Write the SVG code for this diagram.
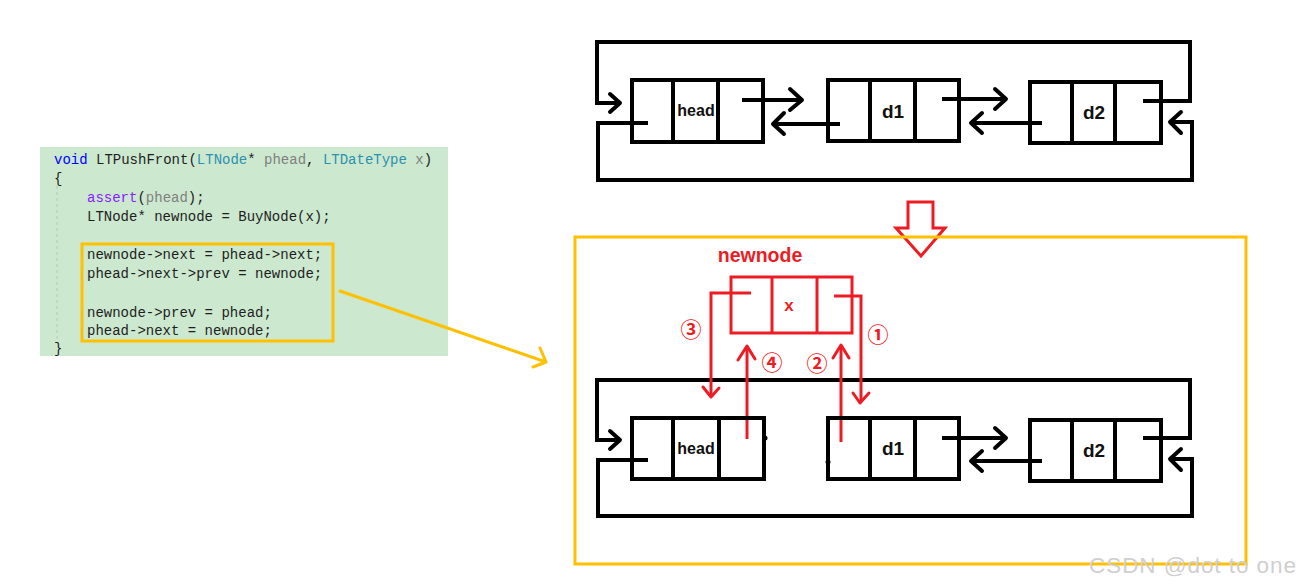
<svg xmlns="http://www.w3.org/2000/svg" width="1302" height="586" viewBox="0 0 1302 586">
<style>
.code{font-family:"Liberation Mono",monospace;font-size:14px;fill:#1e1e1e;white-space:pre}
.kw{fill:#0000ff}.ty{fill:#2b91af}.pm{fill:#808080}.fn{fill:#8a1bff}
.box{fill:none;stroke:#000;stroke-width:4}
.ln{fill:none;stroke:#000;stroke-width:4;stroke-linejoin:miter}
.ch{fill:none;stroke:#000;stroke-width:4;stroke-linecap:round;stroke-linejoin:round}
.lbl{font-family:"Liberation Sans",Arial,sans-serif;font-weight:bold;fill:#111;text-anchor:middle}
.red{fill:none;stroke:#ed1c24;stroke-width:3}
.redch{fill:none;stroke:#ed1c24;stroke-width:3;stroke-linecap:round;stroke-linejoin:round}
.rt{font-family:"Liberation Sans",Arial,sans-serif;font-weight:bold;fill:#ed1c24;text-anchor:middle}
.num{font-family:"Noto Sans CJK SC","DejaVu Sans",sans-serif;font-size:21px;font-weight:bold;fill:#ed1c24;text-anchor:middle}
.yel{fill:none;stroke:#ffc000;stroke-width:3}
</style>
<rect width="1302" height="586" fill="#fff"/>

<g id="code">
<rect x="40" y="147" width="408" height="209" fill="#cce8cf"/>
<line x1="57" y1="186" x2="57" y2="340" stroke="#b8c8b8" stroke-width="1" stroke-dasharray="3,3"/>
<text class="code" x="54" y="164"><tspan class="kw">void</tspan> LTPushFront(<tspan class="ty">LTNode</tspan>* <tspan class="pm">phead</tspan>, <tspan class="ty">LTDateType</tspan> <tspan class="pm">x</tspan>)</text>
<text class="code" x="54" y="183">{</text>
<text class="code" x="87" y="202"><tspan class="fn">assert</tspan>(<tspan class="pm">phead</tspan>);</text>
<text class="code" x="87" y="221">LTNode* newnode = BuyNode(x);</text>
<text class="code" x="87" y="259">newnode-&gt;next = phead-&gt;next;</text>
<text class="code" x="87" y="278">phead-&gt;next-&gt;prev = newnode;</text>
<text class="code" x="87" y="317">newnode-&gt;prev = phead;</text>
<text class="code" x="87" y="335">phead-&gt;next = newnode;</text>
<text class="code" x="54" y="353">}</text>
<rect x="82" y="244" width="251" height="97" class="yel"/>
</g>

<g id="connectors">
<!-- yellow pointer arrow -->
<path class="yel" d="M340,291 L546,362 M540,348 L546,362 L533,367" stroke-linecap="round" stroke-linejoin="round"/>
<!-- top diagram -->
<path class="ln" d="M1143,101 H1190 V42 H597 V103 H618"/>
<polyline class="ch" points="610,94 620,103 610,112"/>
<path class="ln" d="M648,123 H598 V180 H1192 V122 H1170"/>
<polyline class="ch" points="1181,112 1170,122 1181,133"/>
<path class="ln" d="M742,100 H802"/>
<polyline class="ch" points="790,89 802,100 790,110"/>
<path class="ln" d="M840,124 H773"/>
<polyline class="ch" points="784,113 773,124 784,134"/>
<path class="ln" d="M942,99 H1006"/>
<polyline class="ch" points="995,89 1006,99 995,109"/>
<path class="ln" d="M1042,123 H971"/>
<polyline class="ch" points="982,113 971,123 982,133"/>
<!-- bottom diagram -->
<path class="ln" d="M1143,438 H1190 V380 H597 V440 H618"/>
<polyline class="ch" points="610,431 620,440 610,449"/>
<path class="ln" d="M648,460 H598 V516 H1192 V459 H1170"/>
<polyline class="ch" points="1181,449 1170,459 1181,470"/>
<path class="ln" d="M942,438 H1006"/>
<polyline class="ch" points="995,428 1006,438 995,448"/>
<path class="ln" d="M1042,461 H971"/>
<polyline class="ch" points="982,451 971,461 982,471"/>
<circle cx="765" cy="438" r="2.5" fill="#000"/>
<circle cx="828" cy="462" r="2.5" fill="#000"/>
<!-- red pointers -->
<path class="red" d="M751,293 H711 V396"/>
<polyline class="redch" points="703,387 711,397 719,388"/>
<path class="red" d="M834,296 H861 V402"/>
<polyline class="redch" points="853,393 860,403 869,393"/>
<path class="red" d="M747,439 V348"/>
<polyline class="redch" points="738,360 747,346 755,359"/>
<path class="red" d="M841,442 V347"/>
<polyline class="redch" points="833,358 841,345 849,358"/>
<!-- transform arrow -->
<polygon points="908,202 933,202 933,228 945,228 921,256 896,228 908,228" fill="none" stroke="#ed1c24" stroke-width="3"/>
</g>

<g id="top-head">
<rect class="box" x="632" y="80" width="131" height="62"/>
<line class="ln" x1="673" y1="80" x2="673" y2="142"/><line class="ln" x1="718" y1="80" x2="718" y2="142"/>
<text class="lbl" x="696" y="116" font-size="16">head</text>
</g>
<g id="top-d1">
<rect class="box" x="828" y="80" width="131" height="61"/>
<line class="ln" x1="870" y1="80" x2="870" y2="141"/><line class="ln" x1="915" y1="80" x2="915" y2="141"/>
<text class="lbl" x="893" y="118" font-size="19">d1</text>
</g>
<g id="top-d2">
<rect class="box" x="1030" y="82" width="131" height="61"/>
<line class="ln" x1="1072" y1="82" x2="1072" y2="143"/><line class="ln" x1="1115" y1="82" x2="1115" y2="143"/>
<text class="lbl" x="1094" y="119" font-size="19">d2</text>
</g>

<g id="bottom-head">
<rect class="box" x="632" y="418" width="132" height="61"/>
<line class="ln" x1="673" y1="418" x2="673" y2="479"/><line class="ln" x1="719" y1="418" x2="719" y2="479"/>
<text class="lbl" x="696" y="454" font-size="16">head</text>
</g>
<g id="bottom-d1">
<rect class="box" x="828" y="418" width="131" height="61"/>
<line class="ln" x1="870" y1="418" x2="870" y2="479"/><line class="ln" x1="915" y1="418" x2="915" y2="479"/>
<text class="lbl" x="893" y="455" font-size="19">d1</text>
</g>
<g id="bottom-d2">
<rect class="box" x="1030" y="420" width="131" height="61"/>
<line class="ln" x1="1072" y1="420" x2="1072" y2="481"/><line class="ln" x1="1115" y1="420" x2="1115" y2="481"/>
<text class="lbl" x="1094" y="457" font-size="19">d2</text>
</g>

<g id="newnode">
<text class="rt" x="760" y="262" font-size="19.5">newnode</text>
<rect x="731" y="277" width="121" height="56" fill="none" stroke="#ed1c24" stroke-width="3"/>
<line class="red" x1="772" y1="277" x2="772" y2="333"/><line class="red" x1="817" y1="277" x2="817" y2="333"/>
<text class="rt" x="789" y="311" font-size="17">x</text>
</g>

<g id="step-labels">
<text class="num" x="691" y="337">③</text>
<text class="num" x="878" y="342">①</text>
<text class="num" x="772" y="370">④</text>
<text class="num" x="817" y="371">②</text>
</g>

<g id="frame">
<rect x="575" y="237" width="671" height="327" class="yel"/>
</g>

<text x="1089" y="573" font-family="Liberation Sans,Arial,sans-serif" font-size="22.5" fill="#cfcfcf" textLength="207">CSDN @dot to one</text>
</svg>
